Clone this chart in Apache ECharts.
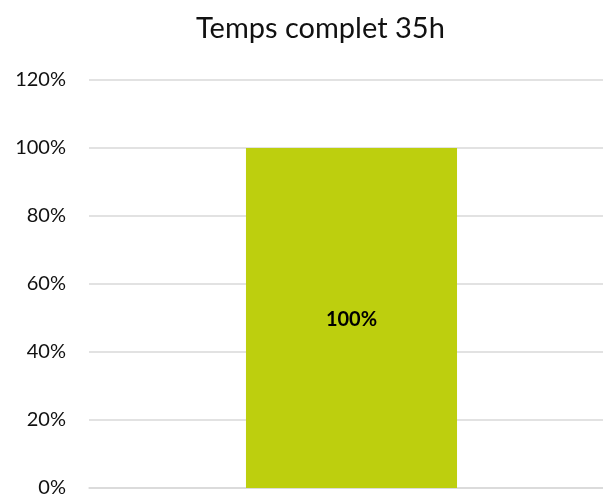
<!DOCTYPE html>
<html><head><meta charset="utf-8">
<script src="https://cdn.jsdelivr.net/npm/echarts@6/dist/echarts.min.js"></script>
<style>html,body{margin:0;padding:0;background:#fff}#c{width:603px;height:494px}</style>
</head><body><div id="c"></div>
<script>
const title = "Temps complet 35h";
const categories = ["Temps complet 35h"];
const values = [100];
const yTicks = [0, 20, 40, 60, 80, 100, 120];

const chart = echarts.init(document.getElementById('c'), null, {renderer: 'canvas'});
chart.setOption({
  animation: false,
  title: {
    text: title, left: 191, top: 9,
    textStyle: {fontFamily: 'Lato', fontSize: 29, fontWeight: 'normal', color: '#111'}
  },
  grid: {left: 89, top: 80, width: 525, bottom: 6, containLabel: false, outerBoundsMode: 'none'},
  xAxis: {
    type: 'category', data: categories,
    axisLine: {show: true, lineStyle: {color: '#d9d9d9', width: 1.5}},
    axisTick: {show: false}, axisLabel: {show: false}
  },
  yAxis: {
    type: 'value', min: yTicks[0], max: yTicks[yTicks.length - 1], interval: 20,
    axisLine: {show: false}, axisTick: {show: false},
    splitLine: {lineStyle: {color: '#d9d9d9', width: 1.5}},
    axisLabel: {formatter: v => v + '%', margin: 23, fontFamily: 'Lato', fontSize: 20, color: '#111'}
  },
  series: [{
    type: 'bar', data: values, barWidth: '40.2%',
    itemStyle: {color: '#bdcf0e'},
    label: {show: true, position: 'inside', offset: [0, 2], formatter: p => p.value + '%',
      fontFamily: 'Lato', fontSize: 20, fontWeight: 'bold', color: '#000'}
  }]
});
</script></body></html>
